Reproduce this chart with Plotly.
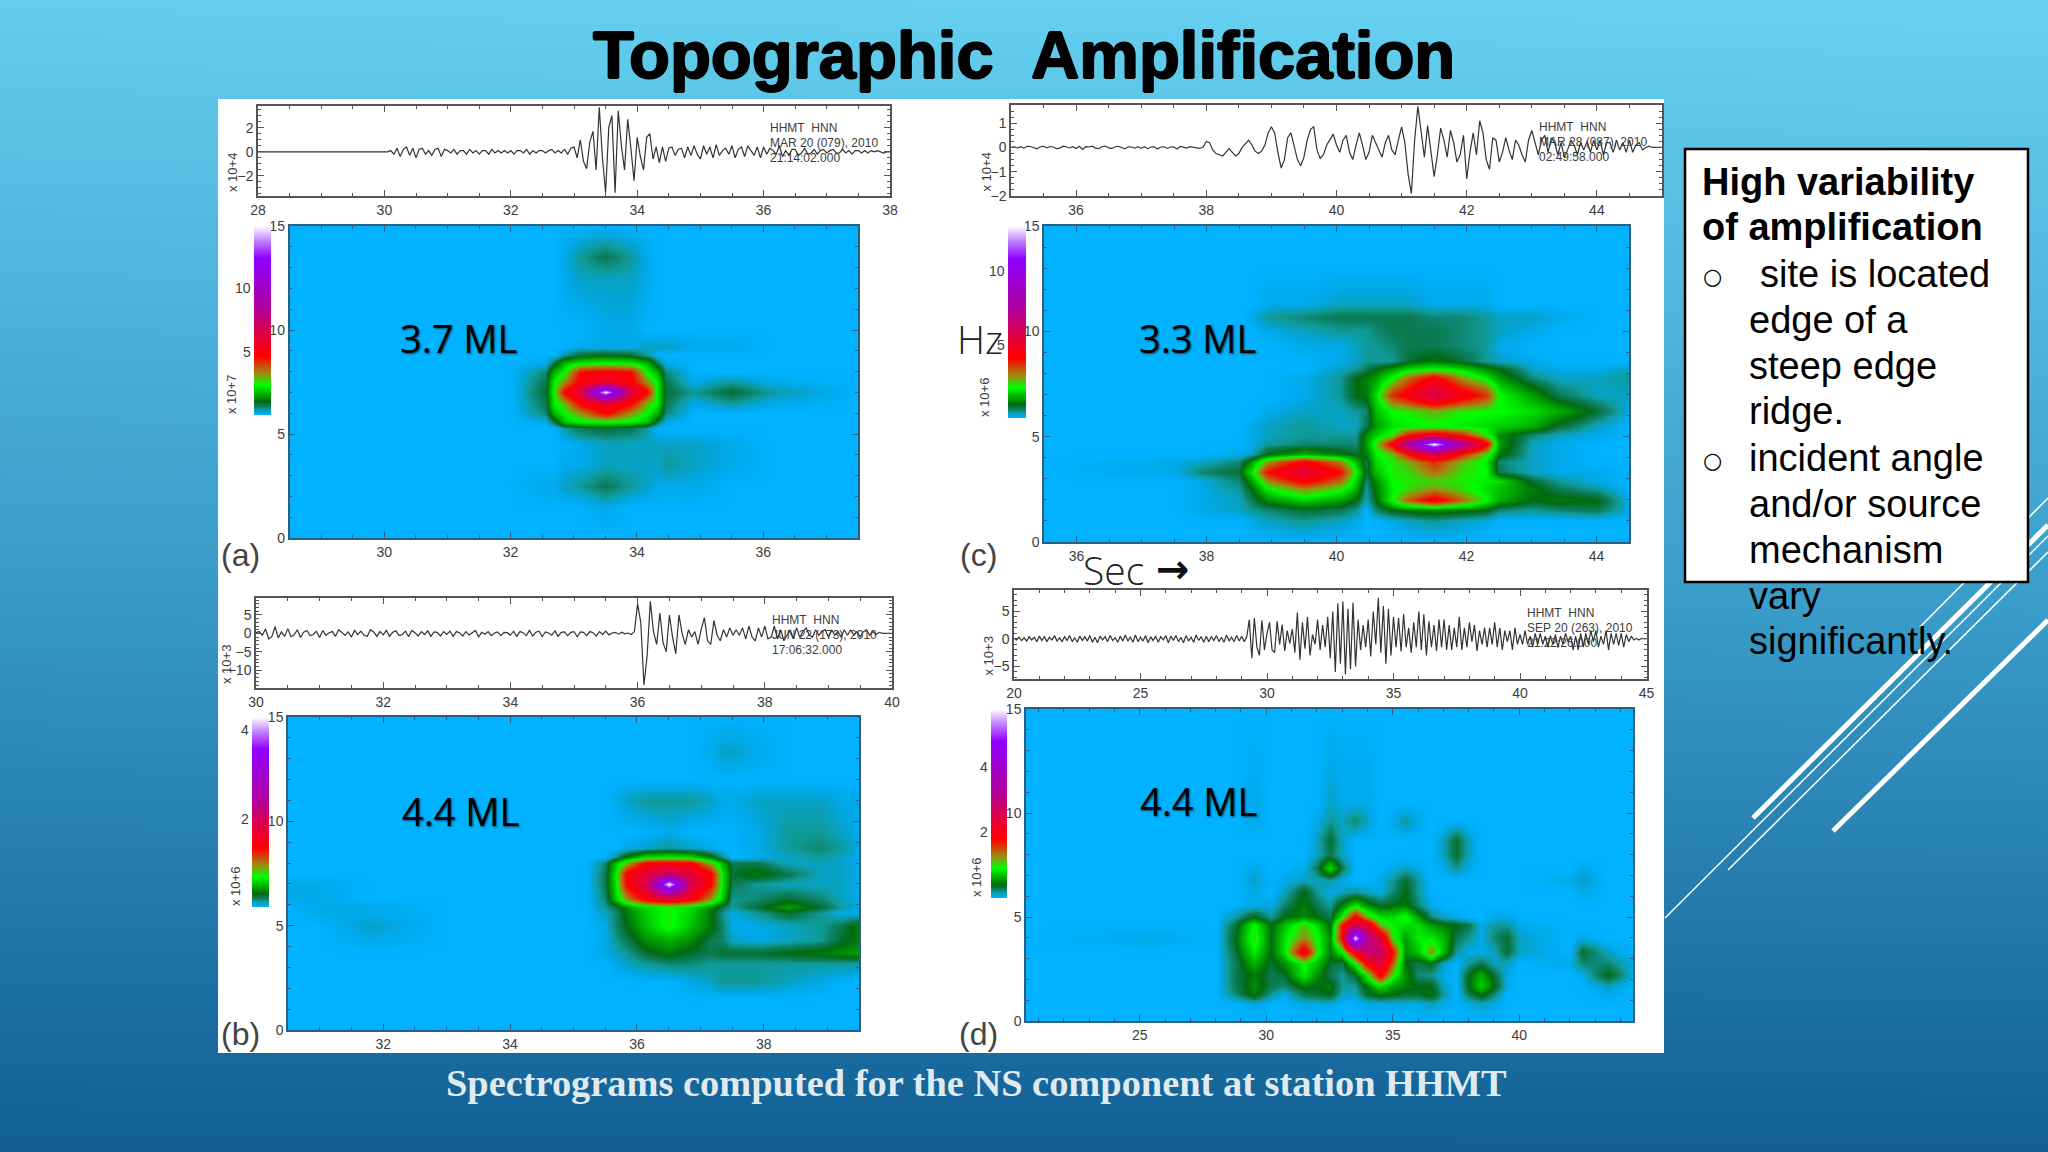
import numpy as np
import plotly.graph_objects as go

W, H = 2048, 1152

# seismograms (amplitude in the unit shown on each axis)
WAVE_A = [0] * 40 + [
    0, 0, .1, -.2, .3, -.4, .2, .4, -.3, .3, -.5, .2, .3, -.2, .1, -.3, .2, .3, -.4, .2,
    .1, -.1, .2, -.2, .1, .1, -.2, .2, -.1, .1, -.2, .1, .1, -.2, .2, -.1, .1, -.1, .1, -.1,
    .1, -.2, .1, .1, -.1, .2, -.2, .1, -.1, .1, .1, -.1, .1, .2, -.1, .1, -.1, .2, -.2, .3,
    .4, -.5, 1.0, -.8, -1.4, .8, 1.7, -1.5, 3.7, -.5,
    -3.4, 2.0, 3.0, -3.4, 3.4, .5, -1.5, 2.7, .3, -2.4,
    1.2, -.4, -1.5, 1.2, 1.5, -.6, .4, -.9, .4, -.8,
    .3, .4, -.3, .2, .3, -.5, .4, -.3, .5, -.2, -.6, .5, -.2, .4, -.5, .6, -.3, .1, .3, -.2,
    .5, -.5, .2, .4, -.4, .5, .1, -.3, .4, -.5, .4, -.2, .3, .1, -.2, .5, -.4, .1, -.3, .2,
    .2, -.3, -.1, .3, -.2, -.1, .2, -.2, .1, .2, -.1, .1, .2, -.1, -.1, .2, -.1, .1, -.2, .1,
    .1, -.1, .1, -.1, .1, 0, .1, 0, -.1, 0, 0,
]
WAVE_B = [
    .2, .5, -.5, 1.2, -1.5, -.8, 1.8, -1.2, .4, -.8, 1.3, -.9, -.4, 1, -1.1, .3, .8, -.6, -.3, .6,
    -1.1, .8, -.5, .2, .5, -.8, 1, .2, -.5, .4, -1, .8, -.3, .6, -.5, -.8, 1, .4, -.8, .5,
    -.4, .8, -.8, .3, .7, -.6, -.3, .6, -.9, .8, .2, -.7, .5, -.3, .7, -.8, .4, .3, -.7, .5,
    -.3, .6, -.8, .5, .2, -.7, .5, -.4, .3, .8, -.9, .3, -.2, .5, -.6, .1, .4, -.6, .3, .2,
    -.5, .6, -.8, .5, .2, -.6, .8, -.7, .3, .6, -.9, .4, .1, -.5, .7, -.8, .3, .4, -.6, .3,
    .5, -.9, .4, .3, -.6, .5, .2, -.7, .5, -.3, .6, -.4, .1, .3, -.2, .3, -.1, .1, -.3, .5,
    8, 3, -14, -6, 8.7, .5, -3, 5.5, -2.5, -5, 5, -1, -5.5, 5, 0, -3, 1, -1, .5, -3,
    1, 4.3, -2, -3, 3.5, -.5, -2, 1, -1, 1.5, -.5, 1, -.5, 1.5, -1.5, 2, -1, -2, 1.5, -1,
    2, -1.5, -1, 2, -1.5, 1, -2, -.5, 1, -1.5, 1.5, -1, .5, 1.5, -.5, -1, 1, -.5, .5, 1,
    -1, 1, -.5, .5, -1, 1, -.5, 1, -.5, .5, -1, .5, 1, -.5, .5, -.3, .3, 0, -.1, 0, 0,
]
WAVE_C = [
    0, .02, -.02, .03, -.03, .05, .04, -.02, -.06, .03, .05, -.02, .04, .02, -.05, -.03, .05, .03, -.02, .03,
    -.04, .05, -.08, .03, .02, .05, -.03, -.05, .04, .06, -.02, -.04, .03, .05, -.02, -.06, .03, .02, -.03, .03,
    -.04, .03, -.05, .02, .03, -.06, .02, .03, -.04, .02, .03, -.06, .04, .02, -.03, .03, .02, -.02, -.04, .02,
    .25, .2, -.1, -.25, -.3, -.35, -.2, -.05, -.2, -.35, -.25, 0, .15, .3, .1, -.15, -.25, -.15, .1, .6,
    .85, .6, -.2, -.85, -.5, .4, .6, .1, -.5, -.75, -.4, .3, .75, .85, -.1, -.45, -.3, .1, .3, .55,
    .1, -.2, .3, .5, -.2, -.5, .1, .6, .1, -.5, -.2, .5, .2, -.1, -.4, .2, .5, -.1, -.3, .3,
    .85, .2, -1.1, -1.9, .3, 1.7, .6, -.4, .9, -.2, -1.2, -.3, .8, .3, -.4, .7, .2, -.6, -.3, .5,
    -1.3, -.2, .6, -.3, 1.1, .6, -.5, -.9, .4, .3, -.6, -.2, .4, -.1, -.5, .3, .1, -.3, -.6, .3,
    .7, .2, -.3, .3, .5, -.2, .4, .2, -.3, .2, -.4, -.1, .3, .1, -.3, .2, -.1, .25, -.2, .3,
    -.1, .3, -.3, .2, .2, -.2, .3, -.1, .2, -.2, .3, -.2, .1, .2, -.1, 0, .05, 0, 0, 0, 0,
]
WAVE_D = [
    .1, -.2, .3, -.3, .2, -.4, .4, -.2, .3, -.5,
    .5, -.3, .4, -.5, .3, -.2, .6, -.4, .2, -.5,
    .4, -.3, .6, -.5, .2, -.6, .5, -.3, .4, -.4,
    .6, -.6, .3, -.7, .5, -.2, .4, -.5, .6, -.3,
    .2, -.6, .5, -.4, .7, -.4, .3, -.6, .7, -.5,
    .3, -.4, .6, -.7, .4, -.3, .5, -.6, .4, -.2,
    .6, -.7, .5, -.3, .6, -.5, .3, -.7, .6, -.4,
    .3, -.6, .7, -.3, .4, -.6, .5, -.5, .4, -.3,
    .6, -.5, .3, -.6, .7, -.4, .3, -.5, .6, -.4,
    .5, -.5, .4, 3.5, -3.5, 3.8, -1.5, -3, 3.4, -2,
    1, 3, -2, -2.5, 3.2, -1, 2.6, -2.2, 1.5, -.8,
    1.8, -2.5, 4.8, -3.8, 3, -1.8, 4, -3, .8, -1,
    3.5, -2, 2.5, -1.5, 4, -3.5, 5, -6, 6.5, -4.5,
    6.8, -6.5, 5.5, -5.5, 6.6, -5, 3.5, -2, 2.5, -1.5,
    3.5, -3.2, 5, -1, 7.5, -2.5, 6, -4.5, 5.5, -3,
    4, -1.5, 3.8, -2.3, 4.5, -1.5, 2, -2.5, 3, -1.5,
    5, -2, 4.5, -3, 3.2, -1.5, 2.5, -2.2, 3.5, -1.5,
    3.5, -2, 2.5, -2, 2, -1.5, 4, -2, 2, -1.5,
    3, -.5, 2.5, -2.2, 1.5, -1, 2, -1.5, 2, -1,
    3, -1.5, 2, -2, 1.5, -.5, 1.5, -2, 2, -1,
    .8, -1, 1.5, -1, .5, -1.5, 1, -1, 1, -1,
    .5, -1.5, .6, -1, .8, -1.6, .5, -1, 1, -.5,
    .5, -2, .5, -2, 1, -1.5, 1, -1, 1.5, -.5,
    1.5, -1.5, .5, -1, 1.5, -2, 1, -1, 1, -1.2,
    1, -1.5, .8, -.5, .5, -.2, .1, -.2, .1, 0,
    0,
]

# spectrogram grids: time (s), frequency (Hz), level as % of the colour bar
TIME_A = [28.5, 30.5, 32, 32.55, 32.68, 32.85, 33.1, 33.5, 33.9, 34.15, 34.32, 34.45, 34.9, 35.5, 36.1, 37.5]
FREQ_A = [0, 1.5, 2.5, 3.5, 4.5, 5.3, 5.6, 6, 6.5, 7, 7.5, 8, 8.4, 8.8, 9.2, 10, 12.5, 13.5, 15]
SPEC_A = [
    [0, 0, 0, 0, 0, 0, 0, 0, 0, 0, 0, 0, 0, 0, 0, 0],
    [0, 0, 0, 0, 0, 0, 0, 1, 0, 0, 0, 0, 0, 0, 0, 0],
    [0, 0, 0, 1, 1, 2, 3, 5, 3, 2, 1, 1, 1, 0, 0, 0],
    [0, 0, 0, 0, 0, 1, 1, 2, 2, 2, 2, 3, 2, 1, 0, 0],
    [0, 0, 0, 0, 0, 0, 1, 2, 2, 2, 2, 2, 2, 1, 0, 0],
    [0, 0, 0, 0, 0, 3, 5, 6, 5, 3, 0, 0, 0, 0, 0, 0],
    [0, 0, 0, 1, 5, 12, 15, 16, 15, 12, 5, 1, 0, 0, 0, 0],
    [0, 0, 0, 4, 11, 16, 22, 32, 22, 16, 11, 4, 0, 0, 0, 0],
    [0, 0, 0, 5, 15, 20, 32, 38, 32, 20, 15, 5, 1, 3, 1, 0],
    [0, 0, 0, 6, 15, 32, 42, 100, 42, 32, 15, 6, 3, 6, 3, 0],
    [0, 0, 0, 5, 15, 22, 33, 38, 33, 22, 15, 5, 1, 3, 1, 0],
    [0, 0, 0, 4, 11, 16, 31, 33, 31, 16, 11, 4, 0, 0, 0, 0],
    [0, 0, 0, 1, 5, 12, 15, 16, 15, 12, 5, 1, 0, 0, 0, 0],
    [0, 0, 0, 0, 0, 3, 6, 7, 6, 3, 0, 0, 0, 0, 0, 0],
    [0, 0, 0, 0, 0, 0, 1, 1, 1, 2, 2, 2, 1, 1, 0, 0],
    [0, 0, 0, 0, 0, 0, 0, 1, 1, 0, 0, 0, 0, 0, 0, 0],
    [0, 0, 0, 0, 0, 1, 2, 2, 2, 1, 0, 0, 0, 0, 0, 0],
    [0, 0, 0, 0, 0, 1, 3, 5, 3, 1, 0, 0, 0, 0, 0, 0],
    [0, 0, 0, 0, 0, 0, 0, 0, 0, 0, 0, 0, 0, 0, 0, 0],
]

TIME_B = [30.5, 31, 31.8, 33, 35.2, 35.5, 35.65, 35.85, 36.15, 36.5, 36.85, 37.15, 37.35, 37.5, 37.9, 38.4, 38.9, 39.2, 39.5]
FREQ_B = [0, 1.5, 2.3, 3.2, 3.7, 4.3, 5, 5.6, 5.9, 6.3, 7, 7.5, 8, 8.3, 8.7, 9.5, 11, 12, 13.3, 15]
SPEC_B = [
    [0, 0, 0, 0, 0, 0, 0, 0, 0, 0, 0, 0, 0, 0, 0, 0, 0, 0, 0],
    [0, 0, 0, 0, 0, 0, 0, 0, 0, 0, 0, 0, 0, 0, 0, 0, 0, 0, 0],
    [0, 0, 0, 0, 0, 0, 0, 0, 0, 0, 1, 2, 3, 3, 3, 2, 1, 0, 0],
    [0, 0, 0, 0, 0, 0, 1, 2, 3, 4, 4, 3, 3, 3, 3, 3, 3, 3, 3],
    [0, 0, 0, 0, 0, 1, 2, 3, 6, 8, 6, 5, 6, 6, 6, 7, 8, 9, 10],
    [0, 0, 1, 0, 0, 1, 3, 5, 9, 11, 9, 5, 4, 2, 1, 2, 3, 6, 8],
    [0, 0, 2, 0, 0, 1, 4, 7, 12, 17, 12, 8, 4, 1, 1, 2, 3, 5, 8],
    [0, 1, 1, 0, 0, 2, 4, 8, 13, 17, 13, 8, 3, 1, 3, 6, 3, 1, 1],
    [0, 1, 1, 0, 0, 3, 5, 9, 14, 16, 14, 9, 5, 3, 6, 10, 6, 3, 1],
    [1, 1, 0, 0, 0, 4, 12, 22, 33, 38, 33, 22, 12, 3, 4, 6, 4, 2, 1],
    [1, 1, 0, 0, 0, 5, 14, 32, 44, 100, 44, 32, 14, 5, 3, 2, 2, 2, 1],
    [0, 0, 0, 0, 0, 5, 14, 33, 40, 50, 40, 33, 14, 6, 8, 5, 2, 2, 1],
    [0, 0, 0, 0, 0, 4, 12, 20, 32, 33, 32, 20, 11, 5, 5, 2, 2, 2, 1],
    [0, 0, 0, 0, 0, 0, 3, 8, 14, 15, 14, 8, 3, 0, 1, 2, 3, 2, 1],
    [0, 0, 0, 0, 0, 0, 0, 1, 2, 3, 2, 1, 0, 0, 1, 3, 4, 3, 1],
    [0, 0, 0, 0, 0, 0, 0, 0, 0, 1, 0, 0, 0, 0, 1, 3, 3, 2, 1],
    [0, 0, 0, 0, 0, 0, 1, 2, 3, 3, 3, 2, 1, 1, 2, 2, 2, 1, 1],
    [0, 0, 0, 0, 0, 0, 0, 0, 0, 0, 0, 0, 0, 0, 0, 0, 0, 0, 0],
    [0, 0, 0, 0, 0, 0, 0, 0, 0, 0, 0, 1, 2, 2, 1, 0, 0, 0, 0],
    [0, 0, 0, 0, 0, 0, 0, 0, 0, 0, 0, 0, 0, 0, 0, 0, 0, 0, 0],
]

TIME_C = [35.5, 37.5, 37.9, 38.5, 38.7, 38.95, 39.5, 40.05, 40.3, 40.45, 40.6, 40.85, 41.1, 41.5, 41.9, 42.3, 42.5, 43, 43.4, 44, 44.5]
FREQ_C = [0, 1, 1.5, 2, 2.5, 2.9, 3.3, 3.8, 4.2, 4.64, 5.1, 5.5, 6.2, 7, 7.8, 8.2, 8.6, 9.3, 10, 10.7, 11.3, 13, 15]
SPEC_C = [
    [0, 0, 0, 0, 0, 0, 0, 0, 0, 0, 0, 0, 0, 0, 0, 0, 0, 0, 0, 0, 0],
    [0, 0, 0, 0, 1, 2, 3, 2, 1, 0, 0, 1, 2, 3, 2, 1, 0, 0, 0, 0, 0],
    [0, 0, 1, 2, 3, 4, 6, 5, 3, 0, 4, 7, 8, 9, 8, 7, 4, 3, 4, 5, 1],
    [0, 0, 1, 2, 5, 9, 13, 10, 7, 2, 7, 16, 25, 34, 25, 16, 11, 7, 8, 7, 1],
    [0, 0, 1, 3, 7, 15, 22, 17, 11, 3, 8, 15, 18, 22, 18, 14, 12, 8, 5, 3, 0],
    [0, 0, 1, 4, 10, 22, 33, 24, 13, 4, 9, 16, 17, 18, 17, 15, 14, 6, 3, 1, 0],
    [0, 1, 4, 6, 15, 31, 40, 31, 16, 6, 12, 17, 18, 24, 18, 16, 5, 2, 1, 1, 0],
    [0, 1, 2, 4, 10, 22, 33, 23, 12, 5, 14, 17, 20, 28, 20, 15, 4, 2, 1, 0, 0],
    [0, 0, 0, 1, 2, 7, 11, 8, 6, 8, 15, 19, 30, 45, 30, 18, 8, 2, 1, 0, 0],
    [0, 0, 0, 0, 1, 3, 4, 4, 4, 10, 18, 33, 60, 100, 60, 33, 10, 2, 1, 0, 0],
    [0, 0, 0, 0, 1, 2, 3, 3, 3, 9, 13, 17, 30, 36, 30, 17, 9, 4, 2, 1, 0],
    [0, 0, 0, 0, 1, 2, 3, 2, 2, 5, 10, 14, 15, 16, 15, 14, 13, 11, 6, 2, 0],
    [0, 0, 0, 0, 0, 1, 2, 2, 3, 4, 12, 16, 17, 20, 17, 16, 16, 14, 11, 6, 1],
    [0, 0, 0, 0, 0, 0, 1, 3, 7, 8, 14, 28, 34, 45, 36, 28, 16, 10, 5, 2, 2],
    [0, 0, 0, 0, 0, 0, 1, 3, 7, 8, 10, 16, 24, 33, 22, 15, 10, 4, 2, 2, 3],
    [0, 0, 0, 0, 0, 0, 0, 2, 3, 5, 7, 10, 14, 16, 14, 9, 7, 2, 1, 1, 2],
    [0, 0, 0, 0, 0, 0, 0, 1, 2, 3, 3, 3, 6, 8, 6, 3, 2, 1, 0, 0, 0],
    [0, 0, 0, 0, 0, 0, 1, 1, 2, 3, 3, 4, 5, 5, 4, 3, 1, 0, 0, 0, 0],
    [0, 0, 0, 0, 0, 1, 2, 3, 3, 3, 4, 5, 5, 5, 4, 3, 2, 1, 0, 0, 0],
    [0, 0, 0, 0, 1, 3, 4, 5, 5, 5, 5, 5, 5, 4, 4, 3, 2, 2, 1, 0, 0],
    [0, 0, 0, 0, 0, 1, 1, 2, 2, 2, 2, 2, 2, 1, 1, 1, 0, 0, 0, 0, 0],
    [0, 0, 0, 0, 0, 0, 0, 0, 0, 0, 0, 0, 0, 0, 0, 0, 0, 0, 0, 0, 0],
    [0, 0, 0, 0, 0, 0, 0, 0, 0, 0, 0, 0, 0, 0, 0, 0, 0, 0, 0, 0, 0],
]

TIME_D = [20.5, 25.5, 28, 28.8, 29.5, 30.2, 30.7, 31.5, 32, 32.5, 33, 33.5, 34, 34.5, 35, 35.5, 36, 36.5, 37, 37.5, 38, 38.5, 39, 39.5, 40, 42, 42.5, 43.5, 44.5]
FREQ_D = [0, .8, 1.3, 1.7, 2.2, 2.8, 3.3, 4, 4.6, 5, 5.6, 6.2, 6.8, 7.35, 8, 8.7, 9.6, 10.5, 15]
SPEC_D = [
    [0, 0, 0, 0, 0, 0, 0, 0, 0, 0, 0, 0, 0, 0, 0, 0, 0, 0, 0, 0, 0, 0, 0, 0, 0, 0, 0, 0, 0],
    [0, 0, 0, 0, 1, 0, 0, 1, 1, 1, 0, 0, 1, 1, 1, 1, 1, 2, 1, 0, 1, 2, 1, 0, 0, 0, 0, 0, 0],
    [0, 0, 0, 4, 8, 3, 1, 5, 6, 7, 2, 2, 6, 8, 7, 6, 6, 8, 3, 0, 5, 8, 4, 0, 0, 0, 0, 1, 0],
    [0, 0, 0, 5, 9, 5, 4, 8, 7, 8, 3, 3, 8, 14, 10, 8, 7, 7, 2, 0, 7, 13, 7, 1, 0, 0, 0, 2, 0],
    [0, 0, 0, 5, 8, 5, 6, 15, 9, 5, 3, 6, 16, 33, 17, 9, 4, 3, 1, 0, 7, 11, 6, 1, 0, 0, 1, 7, 1],
    [0, 0, 0, 5, 11, 6, 9, 16, 12, 6, 5, 16, 33, 42, 25, 7, 5, 7, 2, 0, 3, 5, 2, 2, 0, 1, 4, 4, 1],
    [0, 0, 0, 6, 15, 7, 14, 36, 17, 8, 15, 35, 50, 50, 30, 9, 12, 22, 12, 3, 1, 1, 2, 6, 2, 0, 6, 2, 0],
    [0, 1, 0, 7, 18, 7, 14, 22, 16, 9, 32, 100, 55, 42, 17, 10, 15, 15, 12, 5, 3, 1, 4, 6, 2, 0, 1, 0, 0],
    [0, 0, 0, 6, 16, 7, 12, 19, 14, 7, 30, 45, 40, 20, 15, 14, 14, 10, 8, 7, 5, 1, 3, 3, 1, 0, 0, 0, 0],
    [0, 0, 0, 3, 7, 3, 7, 9, 7, 5, 16, 33, 20, 14, 14, 17, 10, 4, 2, 1, 0, 0, 1, 1, 0, 0, 0, 0, 0],
    [0, 0, 0, 0, 1, 1, 4, 8, 5, 3, 8, 14, 9, 6, 7, 8, 4, 1, 0, 0, 0, 0, 0, 0, 0, 0, 0, 0, 0],
    [0, 0, 0, 0, 1, 0, 2, 7, 3, 1, 2, 3, 2, 1, 4, 7, 3, 0, 0, 0, 0, 0, 0, 0, 0, 0, 1, 0, 0],
    [0, 0, 0, 0, 2, 0, 1, 2, 2, 3, 1, 0, 0, 1, 3, 6, 3, 0, 0, 0, 0, 0, 0, 0, 0, 1, 2, 0, 0],
    [0, 0, 0, 0, 1, 0, 0, 1, 5, 14, 5, 0, 0, 0, 1, 2, 1, 0, 1, 3, 1, 0, 0, 0, 0, 0, 1, 0, 0],
    [0, 0, 0, 0, 0, 0, 0, 0, 2, 5, 2, 0, 0, 0, 0, 0, 0, 0, 2, 6, 2, 0, 0, 0, 0, 0, 0, 0, 0],
    [0, 0, 0, 0, 0, 0, 0, 0, 2, 6, 2, 0, 0, 0, 0, 0, 0, 0, 2, 6, 2, 0, 0, 0, 0, 0, 0, 0, 0],
    [0, 0, 0, 0, 1, 0, 0, 0, 1, 3, 2, 4, 2, 0, 1, 3, 1, 0, 0, 0, 0, 0, 0, 0, 0, 0, 0, 0, 0],
    [0, 0, 0, 0, 1, 0, 0, 0, 0, 2, 1, 1, 1, 0, 0, 0, 0, 0, 0, 0, 0, 0, 0, 0, 0, 0, 0, 0, 0],
    [0, 0, 0, 0, 0, 0, 0, 0, 0, 0, 0, 0, 0, 0, 0, 0, 0, 0, 0, 0, 0, 0, 0, 0, 0, 0, 0, 0, 0],
]

SLIDE_TITLE = "Topographic&nbsp;&nbsp;Amplification"
CAPTION = "Spectrograms computed for the NS component at station HHMT"
NOTE_LINES = ["High variability", "of amplification", " site is located", "edge of a", "steep edge",
              "ridge.", "incident angle", "and/or source", "mechanism", "vary", "significantly."]

SPEC_COLORS = [
    [0, "#00b2ff"], [.012, "#00a8e6"], [.03, "#0f9a98"], [.045, "#0c7f60"], [.07, "#006a10"],
    [.10, "#00a000"], [.16, "#00ff00"], [.22, "#a08a10"], [.31, "#ff0000"], [.45, "#d80050"],
    [.57, "#b000a0"], [.83, "#9000ff"], [.92, "#c080ff"], [1, "#ffffff"],
]
BG_COLORS = [[0, "#6ad6f3"], [.5, "#3a9dca"], [1, "#0e5a90"]]

# boxes are in page pixels: (left, right, top, bottom)
PANELS = [
    dict(name="(a)", mag="3.7 ML", wave=WAVE_A, x0=28, dx=.05, wave_box=(258, 890, 106, 196),
         wave_x=(28, 38), wave_y=(-3.67, 3.8), x_major=2, x_minor=.5, y_major=2, y_minor=.5,
         unit="x 10+4", time=TIME_A, freq=FREQ_A, spec=SPEC_A, spec_box=(289.5, 858, 226, 538),
         spec_x=(28.5, 37.5), bar=(254, 271, 226, 415), peak=14.9, bar_ticks=[5, 10], bar_unit="x 10+7",
         stamp=("HHMT  HNN", "MAR 20 (079), 2010", "21:14:02.000"), stamp_pos=(768, 128),
         tag_pos=(240, 555), mag_pos=(458, 338), unit_x=232, bar_unit_x=231),
    dict(name="(b)", mag="4.4 ML", wave=WAVE_B, x0=30, dx=.05, wave_box=(256, 892, 598, 688),
         wave_x=(30, 40), wave_y=(-14.8, 9.6), x_major=2, x_minor=.5, y_major=5, y_minor=1,
         unit="x 10+3", time=TIME_B, freq=FREQ_B, spec=SPEC_B, spec_box=(288, 859, 717, 1030),
         spec_x=(30.5, 39.5), bar=(251.5, 268, 717, 907), peak=4.3, bar_ticks=[2, 4], bar_unit="x 10+6",
         stamp=("HHMT  HNN", "JUN 22 (173), 2010", "17:06:32.000"), stamp_pos=(770, 620),
         tag_pos=(240, 1034), mag_pos=(460, 811), unit_x=226, bar_unit_x=235),
    dict(name="(c)", mag="3.3 ML", wave=WAVE_C, x0=35, dx=.05, wave_box=(1011, 1662, 105, 196),
         wave_x=(35, 45), wave_y=(-2, 1.75), x_major=2, x_minor=.5, y_major=1, y_minor=.25,
         unit="x 10+4", time=TIME_C, freq=FREQ_C, spec=SPEC_C, spec_box=(1044, 1629, 226, 542),
         spec_x=(35.5, 44.5), bar=(1007.5, 1025, 226, 418), peak=13.1, bar_ticks=[5, 10], bar_unit="x 10+6",
         stamp=("HHMT  HNN", "MAR 28 (087), 2010", "02:49:58.000"), stamp_pos=(1537, 127),
         tag_pos=(978, 555), mag_pos=(1197, 338), unit_x=986, bar_unit_x=984),
    dict(name="(d)", mag="4.4 ML", wave=WAVE_D, x0=20, dx=.1, wave_box=(1014, 1646.5, 590, 679),
         wave_x=(20, 45), wave_y=(-7.3, 8.9), x_major=5, x_minor=1, y_major=5, y_minor=1,
         unit="x 10+3", time=TIME_D, freq=FREQ_D, spec=SPEC_D, spec_box=(1026, 1633, 709, 1021),
         spec_x=(20.5, 44.5), bar=(990.5, 1006, 709, 898), peak=5.75, bar_ticks=[2, 4], bar_unit="x 10+6",
         stamp=("HHMT  HNN", "SEP 20 (263), 2010", "21:22:26.000"), stamp_pos=(1525, 613),
         tag_pos=(978, 1034), mag_pos=(1198, 801), unit_x=988, bar_unit_x=976),
]

NARROW = "Liberation Sans Narrow, Liberation Sans, sans-serif"
ARIAL = "Liberation Sans, Arial, sans-serif"
SEGOE = "Open Sans, Noto Sans, sans-serif"
INK = "#3c3c3c"

fig = go.Figure()

# slide background lives on a pixel-scaled axis pair
fig.add_trace(go.Heatmap(x=[-50, W + 50], y=[-50, H * .5, H + 50], z=[[.04, 0], [.52, .48], [1, 1]],
                         colorscale=BG_COLORS, zmin=0, zmax=1, zsmooth="best", showscale=False,
                         hoverinfo="skip", xaxis="x", yaxis="y"))
for pts, width in [([(1753, 818), (2048, 525)], 5), ([(1833, 831), (2048, 620)], 5),
                   ([(1728, 870), (2048, 552)], 1.5), ([(1665, 918), (2048, 536)], 1.5),
                   ([(1920, 627), (2048, 498)], 1.5)]:
    fig.add_trace(go.Scatter(x=[p[0] for p in pts], y=[p[1] for p in pts], mode="lines",
                             line=dict(color="white", width=width), hoverinfo="skip",
                             xaxis="x", yaxis="y"))
fig.add_trace(go.Scatter(x=[218, 1664, 1664, 218, 218], y=[99, 99, 1053, 1053, 99], mode="none",
                         fill="toself", fillcolor="white", hoverinfo="skip", xaxis="x", yaxis="y"))

layout_axes = dict(
    xaxis=dict(domain=[0, 1], range=[0, W], visible=False, fixedrange=True),
    yaxis=dict(domain=[0, 1], range=[H, 0], visible=False, fixedrange=True),
)
notes = []


def note(x, y, text, size, color="#000", family=ARIAL, **kw):
    font = dict(size=size, color=color, family=family)
    font.update(kw.pop("font", {}))
    notes.append(dict(x=x, y=y, xref="x", yref="y", text=text, showarrow=False, font=font,
                      xanchor=kw.pop("xanchor", "center"), yanchor="middle", **kw))


def axis_pair(n, box, x_range, y_range, x_major, x_minor, y_major, y_minor, line):
    left, right, top, bottom = box
    tick_font = dict(size=14, color=INK, family=NARROW)
    common = dict(showgrid=False, zeroline=False, showline=True, linecolor=line, linewidth=1.5,
                  mirror="allticks", ticks="inside", tickcolor=line, ticklen=6, tickwidth=1,
                  tickfont=tick_font, fixedrange=True)
    layout_axes[f"xaxis{n}"] = dict(domain=[left / W, right / W], range=list(x_range), anchor=f"y{n}",
                                    dtick=x_major, tick0=0,
                                    minor=dict(dtick=x_minor, ticks="inside", ticklen=3, tickcolor=line),
                                    **common)
    layout_axes[f"yaxis{n}"] = dict(domain=[1 - bottom / H, 1 - top / H], range=list(y_range), anchor=f"x{n}",
                                    dtick=y_major, tick0=0,
                                    minor=dict(dtick=y_minor, ticks="inside", ticklen=3, tickcolor=line),
                                    **common)


for i, p in enumerate(PANELS):
    wave_n, spec_n = 2 * i + 2, 2 * i + 3

    axis_pair(wave_n, p["wave_box"], p["wave_x"], p["wave_y"], p["x_major"], p["x_minor"],
              p["y_major"], p["y_minor"], "#555555")
    fig.add_trace(go.Scatter(x0=p["x0"], dx=p["dx"], y=p["wave"], mode="lines", hoverinfo="skip",
                             line=dict(color="#333333", width=1.2), xaxis=f"x{wave_n}", yaxis=f"y{wave_n}"))

    axis_pair(spec_n, p["spec_box"], p["spec_x"], (0, 15), p["x_major"], p["x_minor"], 5, 1, "#2f5f80")
    left, right, top, bottom = p["bar"]
    fig.add_trace(go.Heatmap(
        x=p["time"], y=p["freq"], z=np.array(p["spec"]), colorscale=SPEC_COLORS, zmin=0, zmax=100,
        zsmooth="best", hoverinfo="skip", xaxis=f"x{spec_n}", yaxis=f"y{spec_n}",
        colorbar=dict(x=left / W, xanchor="left", xpad=0, y=1 - top / H, yanchor="top", ypad=0,
                      len=bottom - top, lenmode="pixels", thickness=right - left, thicknessmode="pixels",
                      outlinewidth=0, ticks="", showticklabels=False),
    ))

    # colour bar labels, placed by value along the bar
    for v in p["bar_ticks"]:
        note(left - 1, bottom - v / p["peak"] * (bottom - top), str(v), 14, INK, NARROW, xanchor="right")
    note(p["bar_unit_x"], bottom - 20, p["bar_unit"], 13, INK, NARROW, textangle=-90)
    note(p["unit_x"], (p["wave_box"][2] + p["wave_box"][3]) / 2 + 22, p["unit"], 13, INK, NARROW, textangle=-90)

    sx, sy = p["stamp_pos"]
    for k, line in enumerate(p["stamp"]):
        note(sx, sy + 15 * k, line.replace(" ", "&nbsp;"), 12, INK, NARROW, xanchor="left")

    note(*p["tag_pos"], p["name"], 32, "#444444")
    note(*p["mag_pos"], p["mag"], 38, "#000", SEGOE, font=dict(shadow="1px 1px 2px rgba(0,0,0,.6)"))

note(980, 338, "Hz", 39, "#222222", SEGOE, font=dict(weight=300))
note(1113, 569, "Sec", 39, "#222222", SEGOE, font=dict(weight=300))
note(1173, 569, "\u2192", 40, "#111111", "DejaVu Sans", font=dict(weight=700))

heavy = "1px 0 0 #000, -1px 0 0 #000, 0 1px 0 #000, 0 -1px 0 #000"
note(1024, 54, SLIDE_TITLE, 67, "#000", ARIAL, font=dict(weight=700, shadow=heavy))
note(976, 1083, CAPTION, 38.4, "#dfeaf0", "Liberation Serif, serif", font=dict(weight=700))

# text box, its last two lines run out under the frame
line_y = [181.5, 227, 274, 320, 366, 411, 458, 504, 550, 596, 641]
for k, (text, y) in enumerate(zip(NOTE_LINES, line_y)):
    if k < 2:
        note(1700, y, text, 38, "#000", ARIAL, xanchor="left", font=dict(weight=700))
    elif k == 2:
        note(1758, y, text.strip(), 38, "#000", ARIAL, xanchor="left")
    else:
        note(1747, y, text, 38, "#000", ARIAL, xanchor="left")
for y in (line_y[2], line_y[6]):
    note(1712, y + 2, "\u25cb", 22, "#000", "DejaVu Sans")

fig.update_layout(
    width=W, height=H, margin=dict(l=0, r=0, t=0, b=0, autoexpand=False), showlegend=False,
    paper_bgcolor="#3a9dca", plot_bgcolor="rgba(0,0,0,0)",
    annotations=notes,
    shapes=[dict(type="rect", xref="x", yref="y", x0=1685, x1=2028, y0=149, y1=582, layer="above",
                 fillcolor="white", line=dict(color="#000", width=2.5))],
    **layout_axes,
)

fig.write_html("out.html", config=dict(displayModeBar=False),
               post_script="document.body.style.margin='0';document.body.style.overflow='hidden';")
